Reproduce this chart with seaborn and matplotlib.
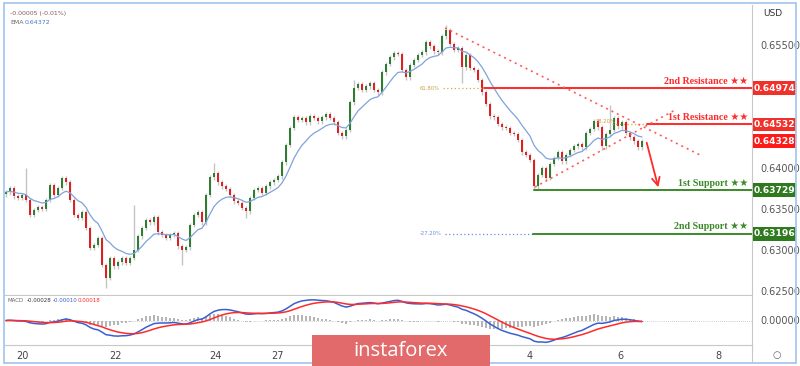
import numpy as np
import pandas as pd
import matplotlib
matplotlib.use("Agg")
import matplotlib.pyplot as plt
import matplotlib.transforms as mtransforms
from matplotlib.patches import Rectangle
import seaborn as sns

# ---------------- data ----------------
closes = [
    0.63707, 0.63756, 0.63658, 0.63634, 0.63671, 0.63610, 0.63427, 0.63488, 0.63524, 0.63500,
    0.63610, 0.63793, 0.63671, 0.63756, 0.63878, 0.63829, 0.63610, 0.63427, 0.63390, 0.63463,
    0.63268, 0.63024, 0.63061, 0.63146, 0.62817, 0.62658, 0.62902, 0.62804, 0.62853, 0.62902,
    0.62841, 0.62902, 0.63000, 0.63170, 0.63268, 0.63366, 0.63341, 0.63402, 0.63219, 0.63183,
    0.63146, 0.63183, 0.63207, 0.63048, 0.63000, 0.63036, 0.63305, 0.63427, 0.63463, 0.63341,
    0.63671, 0.63890, 0.63939, 0.63829, 0.63780, 0.63744, 0.63671, 0.63597, 0.63573, 0.63512,
    0.63475, 0.63634, 0.63732, 0.63756, 0.63695, 0.63780, 0.63829, 0.63854, 0.63902, 0.64073,
    0.64281, 0.64488, 0.64622, 0.64586, 0.64610, 0.64561, 0.64634, 0.64610, 0.64573, 0.64622,
    0.64659, 0.64610, 0.64561, 0.64427, 0.64390, 0.64464, 0.64805, 0.64976, 0.65025, 0.64952,
    0.65000, 0.65037, 0.64952, 0.64927, 0.65171, 0.65269, 0.65354, 0.65403, 0.65391, 0.65196,
    0.65110, 0.65257, 0.65318, 0.65379, 0.65415, 0.65537, 0.65488, 0.65427, 0.65415, 0.65610,
    0.65684, 0.65513, 0.65440, 0.65464, 0.65232, 0.65379, 0.65220, 0.65196, 0.65074, 0.64927,
    0.64781, 0.64634, 0.64622, 0.64537, 0.64500, 0.64488, 0.64427, 0.64415, 0.64342, 0.64195,
    0.64159, 0.64098, 0.63780, 0.63915, 0.64000, 0.63878, 0.64049, 0.64122, 0.64195, 0.64085,
    0.64159, 0.64220, 0.64268, 0.64293, 0.64256, 0.64427, 0.64476, 0.64573, 0.64500, 0.64268,
    0.64415, 0.64464, 0.64610, 0.64512, 0.64561, 0.64427, 0.64378, 0.64329, 0.64256, 0.64328,
]
first_open = 0.63680
high_override = {5: 0.64000, 32: 0.63549, 52: 0.64061, 110: 0.65745, 151: 0.64769, 87: 0.65080}
low_override = {25: 0.62540, 44: 0.62817, 60: 0.63390, 114: 0.65037, 132: 0.63729, 149: 0.64220}
wick_pad = 0.00030

date_pos = [4, 27.25, 52.25, 67.75, 131, 153.5, 178]
date_labels = ["20", "22", "24", "27", "4", "6", "8"]

price_ticks = [0.65500, 0.64000, 0.63500, 0.63000, 0.62500]

resist2, resist1, current, support1, support2 = 0.64974, 0.64532, 0.64328, 0.63729, 0.63196
fib618_label, fib382_label, fibm272_label = "61.80%", "38.20%", "-27.20%"

# annotation geometry (index, price)
down_trend = ([109.75, 173.5], [0.65708, 0.64159])
up_trend = ([132.25, 167.25], [0.63768, 0.64708])
arrow_from, arrow_to = (160.0, 0.64342), (163.25, 0.63732)

# ---------------- derived ----------------
n = len(closes)
idx = np.arange(n)
c = np.array(closes)
o = np.array([first_open] + closes[:-1])
hi = np.maximum(o, c) + wick_pad
lo = np.minimum(o, c) - wick_pad
for k, v in high_override.items():
    hi[k] = v
for k, v in low_override.items():
    lo[k] = v

s = pd.Series(c)
ema = s.ewm(span=10, adjust=False).mean()
macd = s.ewm(span=12, adjust=False).mean() - s.ewm(span=26, adjust=False).mean()
signal = macd.ewm(span=9, adjust=False).mean()
hist = macd - signal

# ---------------- figure ----------------
sns.set_theme(style="white")
plt.rcParams['font.family'] = ['DejaVu Sans']
W, H = 800, 366
fig = plt.figure(figsize=(8, 3.66), dpi=100)
fig.patch.set_facecolor("white")

def fx(px):
    return px / W

def fy(py):
    return 1 - py / H

ax = fig.add_axes([fx(5), fy(295), fx(752) - fx(5), fy(5) - fy(295)])
ax2 = fig.add_axes([fx(5), fy(345), fx(752) - fx(5), fy(296) - fy(345)], sharex=ax)

GREEN, RED = "#2f7d32", "#e0201e"
cols = np.where(c >= o, GREEN, RED)

ax.vlines(idx, lo, hi, color="#c4c4c4", lw=1.0, zorder=1)
heights = np.maximum(np.abs(c - o), 0.00004)
ax.bar(idx, heights, bottom=np.minimum(o, c), width=0.55, color=cols, zorder=2, linewidth=0)
sns.lineplot(x=idx, y=ema.values, ax=ax, color="#7fa3dc", linewidth=0.9, zorder=3)

xmin, xmax = -0.25, 186.5
ax.set_xlim(xmin, xmax)
ax.set_ylim(0.62451, 0.65989)

blend = mtransforms.blended_transform_factory(ax.transAxes, ax.transData)

# fib dotted lines + labels
ax.plot([109.25, xmax], [resist2, resist2], color="#d9a63a", lw=0.9, ls=(0, (1, 2)), zorder=2)
ax.text(108.5, resist2, fib618_label, color="#c9a040", fontsize=3.8, ha="right", va="center")
ax.plot([151.5, xmax], [resist1, resist1], color="#d9a63a", lw=0.9, ls=(0, (1, 2)), zorder=2)
ax.text(150.0, resist1 + 0.0003, fib382_label, color="#c9a040", fontsize=3.8, ha="center", va="center")
ax.plot([109.75, 131.75], [support2, support2], color="#6a8fd8", lw=0.9, ls=(0, (1, 2)), zorder=2)
ax.text(109.0, support2, fibm272_label, color="#6a8fd8", fontsize=3.8, ha="right", va="center")

# support / resistance lines
ax.plot([119.5, xmax], [resist2, resist2], color="#ff2a2a", lw=1.4, zorder=4)
ax.plot([160.25, xmax], [resist1, resist1], color="#ff2a2a", lw=1.4, zorder=4)
ax.plot([132.0, xmax], [support1, support1], color="#3a8a2a", lw=1.4, zorder=4)
ax.plot([131.75, xmax], [support2, support2], color="#3a8a2a", lw=1.4, zorder=4)

# trend lines
ax.plot(*down_trend, color="#ff5a5a", lw=1.2, ls=(0, (1.2, 2.4)), zorder=4)
ax.plot(*up_trend, color="#ff5a5a", lw=1.2, ls=(0, (1.2, 2.4)), zorder=4)
ax.annotate("", xy=arrow_to, xytext=arrow_from,
            arrowprops=dict(arrowstyle="->", color="#ff2a2a", lw=1.3, mutation_scale=14), zorder=5)

# level texts
lbl_font = dict(family=["Liberation Serif", "DejaVu Sans"], fontsize=7.2, fontweight="bold", ha="right", va="bottom")
ax.text(0.9946, resist2 + 0.0003, "2nd Resistance ★★", color="#ff2a2a", transform=blend, **lbl_font)
ax.text(0.9946, resist1 + 0.0003, "1st Resistance ★★", color="#ff2a2a", transform=blend, **lbl_font)
ax.text(0.9946, support1 + 0.0003, "1st Support ★★", color="#3a8a2a", transform=blend, **lbl_font)
ax.text(0.9946, support2 + 0.0003, "2nd Support ★★", color="#3a8a2a", transform=blend, **lbl_font)

# price boxes at right
box_w = 43 / 747
box_h = 0.00165
for val, col in [(resist2, "#f2302a"), (resist1, "#f2302a"), (current, "#ff1a1a"),
                 (support1, "#2f7a1f"), (support2, "#2f7a1f")]:
    ax.add_patch(Rectangle((1.001, val - box_h / 2), box_w, box_h, transform=blend,
                           facecolor=col, edgecolor="none", clip_on=False, zorder=6))
    ax.text(1.001 + box_w / 2, val, f"{val:.5f}", transform=blend, color="white",
            fontsize=6.6, fontweight="bold", ha="center", va="center", zorder=7)

# right axis ticks
ax.yaxis.tick_right()
ax.set_yticks(price_ticks)
ax.set_yticklabels([f"{v:.5f}" for v in price_ticks])
ax.tick_params(axis="y", length=0, pad=6, labelsize=7, labelcolor="#555555")
ax.tick_params(axis="x", length=0, labelbottom=False)
for sp in ["top", "left"]:
    ax.spines[sp].set_visible(False)
ax.spines["right"].set_color("#c8c8c8")
ax.spines["bottom"].set_color("#c8c8c8")
ax.spines["right"].set_linewidth(0.8)
ax.spines["bottom"].set_linewidth(0.8)
ax.set_xlabel("")
ax.set_ylabel("")

# top-left legend
fig.text(fx(10), fy(13), "-0.00005 (-0.01%)", fontsize=4.5, color="#8a5a5a", va="center")
fig.text(fx(10), fy(23), "EMA", fontsize=4.5, color="#666666", va="center")
fig.text(fx(25), fy(23), "0.64372", fontsize=4.5, color="#4a78c8", va="center")
fig.text(fx(773), fy(14), "USD", fontsize=6.5, color="#333333", ha="center", va="center")

# ---------------- MACD ----------------
ax2.bar(idx, hist.values, width=0.35, color="#b5b5b5", zorder=1, linewidth=0)
ax2.axhline(0, color="#bdbdbd", lw=0.6, ls=(0, (1, 1.5)), zorder=1)
sns.lineplot(x=idx, y=macd.values, ax=ax2, color="#3a5fd0", linewidth=1.1, zorder=3)
sns.lineplot(x=idx, y=signal.values, ax=ax2, color="#ff2a2a", linewidth=1.1, zorder=4)
m = float(np.nanmax(np.abs(np.concatenate([macd.values, signal.values]))))
ax2.set_ylim(-m * 1.12, m * 1.12)
ax2.set_xlim(xmin, xmax)
ax2.yaxis.tick_right()
ax2.set_yticks([0.0])
ax2.set_yticklabels(["0.00000"])
ax2.tick_params(axis="y", length=0, pad=6, labelsize=7, labelcolor="#555555")
ax2.set_xticks(date_pos)
ax2.set_xticklabels(date_labels)
ax2.tick_params(axis="x", length=0, pad=4, labelsize=7, labelcolor="#444444")
ax2.spines["top"].set_visible(False)
ax2.spines["left"].set_visible(False)
ax2.spines["right"].set_color("#c8c8c8")
ax2.spines["bottom"].set_color("#c8c8c8")
ax2.spines["right"].set_linewidth(0.8)
ax2.spines["bottom"].set_linewidth(0.8)
ax2.set_xlabel("")
ax2.set_ylabel("")

fig.text(fx(8), fy(301), "MACD", fontsize=4, color="#666666", va="center")
fig.text(fx(27), fy(301), "-0.00028", fontsize=4, color="#333333", va="center")
fig.text(fx(53), fy(301), "-0.00010", fontsize=4, color="#3a5fd0", va="center")
fig.text(fx(78), fy(301), "0.00018", fontsize=4, color="#ff2a2a", va="center")

# vertical separator down through date row and settings circle
fig.add_artist(plt.Line2D([fx(752), fx(752)], [fy(363), fy(345)], color="#c8c8c8", lw=0.8))
fig.text(fx(777), fy(355), "○", fontsize=7, color="#666666", ha="center", va="center")

# outer frame
fig.add_artist(Rectangle((fx(4), fy(363)), fx(796) - fx(4), fy(3) - fy(363), transform=fig.transFigure,
                         fill=False, edgecolor="#a7c8ee", lw=1.3))

# watermark
fig.add_artist(Rectangle((fx(312), 0), fx(490) - fx(312), fy(335), transform=fig.transFigure,
                         facecolor="#e26a6a", edgecolor="none", zorder=10))
fig.text(fx(401), fy(351), "instaforex", fontsize=14.5, color="white", ha="center", va="center",
         family=["Open Sans", "DejaVu Sans"], zorder=11)

fig.savefig("out.png", dpi=100, facecolor="white")
